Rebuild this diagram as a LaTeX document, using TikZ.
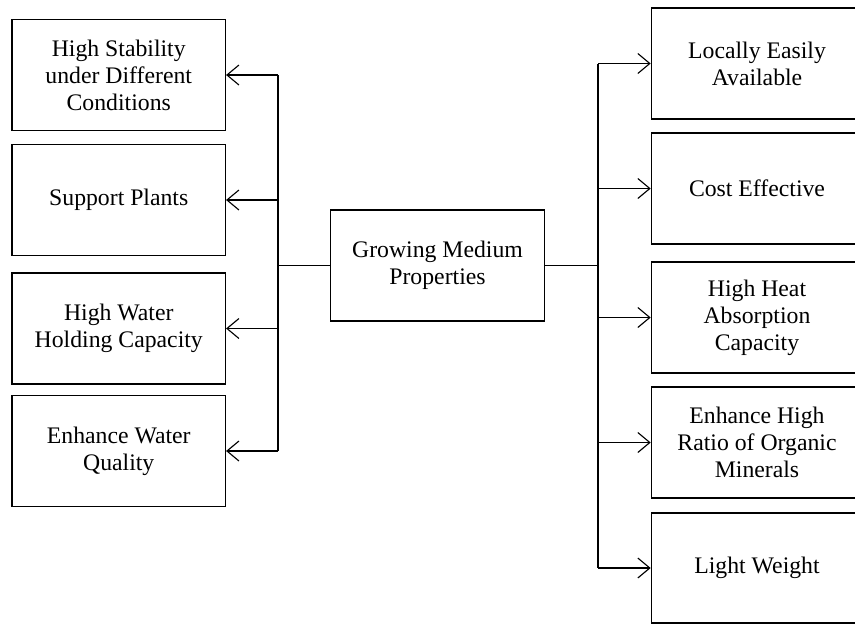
\documentclass[tikz,border=0pt]{standalone}
\usepackage{fontspec}
\setmainfont{Liberation Serif}
\usetikzlibrary{arrows.meta}
\begin{document}
\begin{tikzpicture}[x=0.75pt,y=-0.75pt,
  prop/.style={draw, line width=0.85pt, rectangle, inner sep=0pt,
    minimum width=213.5*0.75pt, minimum height=111*0.75pt,
    align=center, font=\fontsize{17.8}{20.3}\selectfont},
  link/.style={line width=0.85pt},
  arr/.style={line width=0.85pt, -{Straight Barb[length=9pt,width=15pt]}}]
\useasboundingbox (0,0) rectangle (855,625);

% central node
\node[prop] (c) at (437.5,265.5) {Growing Medium\\Properties};

% left column
\node[prop] (l1) at (118.75,75)  {High Stability\\under Different\\Conditions};
\node[prop] (l2) at (118.75,200) {Support Plants};
\node[prop] (l3) at (118.75,328.5) {High Water\\Holding Capacity};
\node[prop] (l4) at (118.75,451) {Enhance Water\\Quality};

% right column
\node[prop, minimum width=211.5*0.75pt] (r1) at (757,63.5)  {Locally Easily\\Available};
\node[prop, minimum width=211.5*0.75pt] (r2) at (757,188.5) {Cost Effective};
\node[prop, minimum width=211.5*0.75pt] (r3) at (757,317.5) {High Heat\\Absorption\\Capacity};
\node[prop, minimum width=211.5*0.75pt] (r4) at (757,442.5) {Enhance High\\Ratio of Organic\\Minerals};
\node[prop, minimum width=211.5*0.75pt, minimum height=110*0.75pt] (r5) at (757,568) {Light Weight};

% junctions on the two trunks
\coordinate (jl) at (278,265.5);
\coordinate (jr) at (598,265.5);

\draw[link] (c.west) -- (jl);
\draw[link] (c.east) -- (jr);

% trunks
\draw[link] (jl |- l1.east) -- (jl |- l4.east);
\draw[link] (jr |- r1.west) -- (jr |- r5.west);

% branches
\foreach \n in {l1,l2,l3,l4} \draw[arr] (jl |- \n.east) -- (\n.east);
\foreach \n in {r1,r2,r3,r4,r5} \draw[arr] (jr |- \n.west) -- (\n.west);
\end{tikzpicture}
\end{document}
